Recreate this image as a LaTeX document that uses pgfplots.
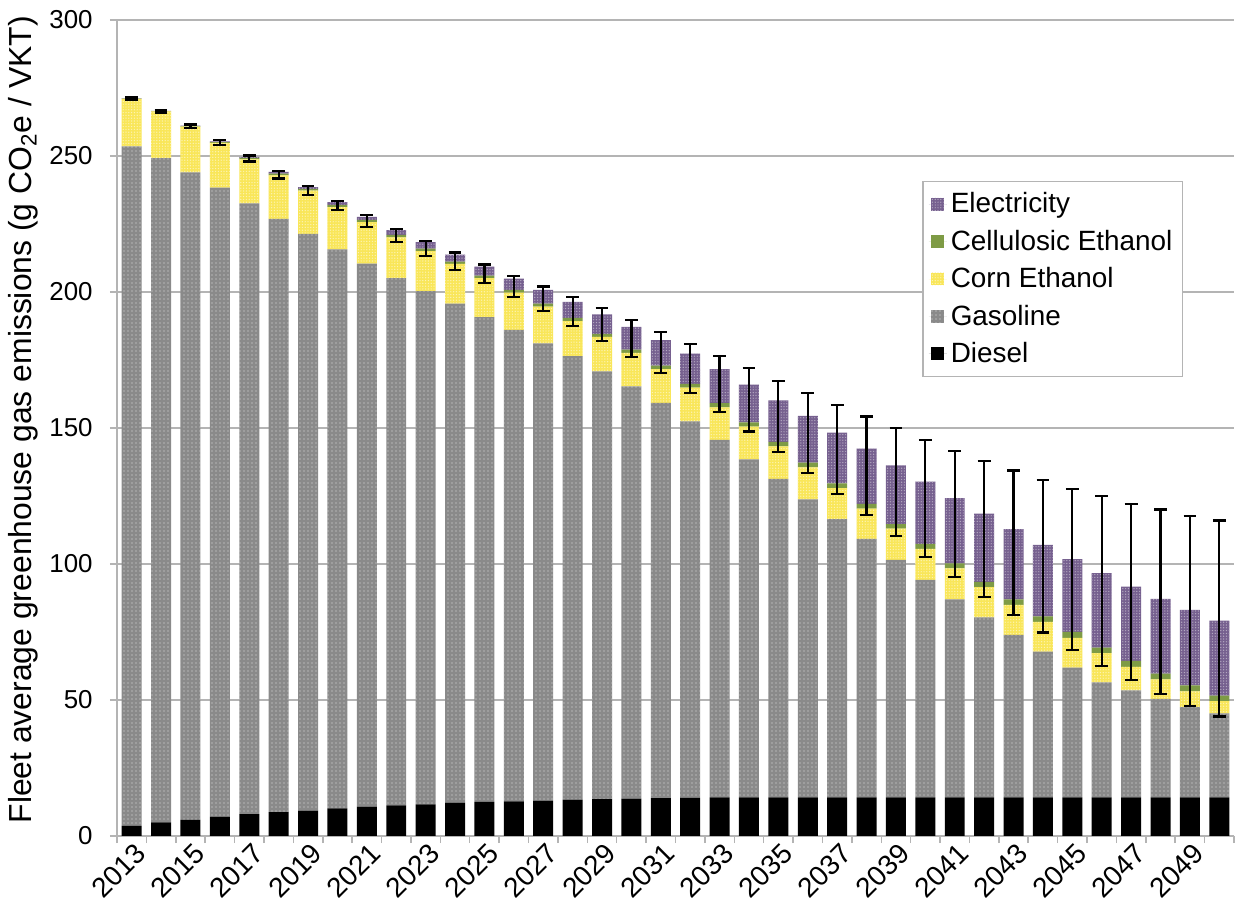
\documentclass[border=0pt]{standalone}
\usepackage{fontspec}
\setmainfont{Liberation Sans}
\usepackage{pgfplots}
\pgfplotsset{compat=1.18}
\usepackage{pgfplotstable}
\usetikzlibrary{patterns.meta}

\definecolor{dieselc}{HTML}{000000}
\definecolor{gasc}{HTML}{8A8A8A}
\definecolor{cornc}{HTML}{F9E659}
\definecolor{cellc}{HTML}{7E9B45}
\definecolor{elecc}{HTML}{76608F}
\definecolor{axc}{HTML}{B4B4B4}

\pgfplotstableread{
x year diesel gas corn cell elec total errplus errminus
0 2013 3.7 249.8 17.5 0.1 0.1 271.2 0.3 0.6
1 2014 5.0 244.2 17.2 0.1 0.1 266.6 0.3 0.6
2 2015 5.9 238.1 16.8 0.2 0.2 261.2 0.4 0.9
3 2016 7.1 231.3 16.4 0.3 0.3 255.4 0.4 1.3
4 2017 8.0 224.6 16.2 0.5 0.4 249.7 0.5 1.7
5 2018 8.8 218.1 16.0 0.6 0.7 244.2 0.3 2.5
6 2019 9.3 212.1 15.9 0.6 0.7 238.6 0.3 2.9
7 2020 10.2 205.5 15.5 0.8 1.0 233.0 0.4 3.0
8 2021 10.8 199.6 15.3 0.8 1.1 227.6 0.6 3.6
9 2022 11.3 193.8 15.0 0.9 1.7 222.7 0.6 4.2
10 2023 11.6 188.7 14.7 0.9 2.4 218.3 0.5 5.0
11 2024 12.3 183.4 14.6 0.9 2.5 213.7 0.8 5.5
12 2025 12.5 178.3 14.3 0.9 3.3 209.3 0.8 5.9
13 2026 12.7 173.4 13.7 1.0 4.1 204.9 1.1 6.7
14 2027 13.0 168.1 13.5 1.1 5.1 200.8 1.2 7.9
15 2028 13.4 163.0 12.9 1.2 5.9 196.4 1.7 8.8
16 2029 13.6 157.2 12.7 1.1 7.2 191.8 2.2 9.8
17 2030 13.7 151.6 12.3 1.2 8.4 187.2 2.4 11.1
18 2031 13.9 145.3 12.4 1.3 9.4 182.3 3.1 12.1
19 2032 14.0 138.4 12.4 1.4 11.1 177.3 3.7 14.3
20 2033 14.2 131.4 12.0 1.5 12.5 171.6 5.0 15.7
21 2034 14.2 124.3 12.0 1.6 13.8 165.9 6.1 17.2
22 2035 14.2 117.1 11.9 1.7 15.3 160.2 7.1 19.1
23 2036 14.2 109.6 11.7 1.8 17.2 154.5 8.4 21.0
24 2037 14.2 102.3 11.4 1.7 18.7 148.3 10.2 22.5
25 2038 14.2 95.0 11.2 1.7 20.3 142.4 11.8 24.5
26 2039 14.2 87.3 11.5 1.7 21.6 136.3 13.6 26.1
27 2040 14.2 80.0 11.4 1.8 22.9 130.3 15.3 27.8
28 2041 14.2 72.8 11.4 1.8 24.0 124.2 17.4 29.1
29 2042 14.2 66.2 11.1 1.9 25.1 118.5 19.3 30.5
30 2043 14.2 59.7 11.1 2.0 25.8 112.8 21.6 31.5
31 2044 14.2 53.6 10.9 2.0 26.3 107.0 24.0 32.2
32 2045 14.2 47.7 10.9 2.2 26.8 101.8 25.9 33.4
33 2046 14.2 42.3 10.7 2.1 27.3 96.6 28.3 34.1
34 2047 14.2 39.3 8.7 2.2 27.3 91.7 30.5 34.3
35 2048 14.2 36.2 7.2 2.1 27.5 87.2 32.8 35.0
36 2049 14.2 33.2 5.8 2.2 27.7 83.1 34.6 35.3
37 2050 14.2 30.9 4.5 2.0 27.6 79.2 36.8 35.3
}\data

\begin{document}
\begin{tikzpicture}
\begin{axis}[
  at={(0,0)}, anchor=south west,
  scale only axis,
  width=558.5bp, height=408bp,
  ybar stacked,
  bar width=0.68,
  xmin=-0.5, xmax=37.5,
  ymin=0, ymax=300,
  ytick={0,50,...,300},
  xtick={-0.5,0.5,...,37.5},
  xticklabels={},
  extra x ticks={0,2,...,36},
  extra x tick labels={2013,2015,2017,2019,2021,2023,2025,2027,2029,2031,2033,2035,2037,2039,2041,2043,2045,2047,2049},
  extra x tick style={major tick length=0pt, grid=none},
  tick align=outside,
  major tick length=3.5bp,
  tick style={axc, line width=0.75bp},
  axis x line*=bottom,
  axis y line*=left,
  axis line style={axc, line width=0.75bp},
  ymajorgrids,
  grid style={axc, line width=0.75bp},
  /pgf/number format/assume math mode=true,
  yticklabel style={font=\fontsize{13}{15}\selectfont, inner sep=0bp, xshift=-8.5bp},
  xticklabel style={font=\fontsize{14}{16}\selectfont, rotate=45, anchor=north east, inner sep=1bp, yshift=-1.5bp},
  ylabel={Fleet average greenhouse gas emissions (g CO\textsubscript{2}e / VKT)},
  every axis y label/.style={at={(axis description cs:-0.084,0.51)}, rotate=90, anchor=center, font=\fontsize{16}{18}\selectfont},
  legend style={at={(axis description cs:0.7207,0.8027)}, anchor=north west,
    draw=axc, line width=0.75bp, font=\fontsize{14}{16}\selectfont,
    row sep=3.1bp, inner xsep=3bp, inner ysep=3.5bp},
  legend cell align=left,
  reverse legend,
  legend image code/.code={\fill[#1] (1bp,-3.2bp) rectangle (7.4bp,3.2bp); \path (0bp,0bp) -- (9bp,0bp);},
]
\addplot[fill=dieselc, draw=none] table[x=x, y=diesel] {\data};
\addlegendentry{Diesel}
\addplot[fill=gasc, draw=none, postaction={pattern={Dots[distance=2bp, radius=0.3bp]}, pattern color=white!75!gasc}] table[x=x, y=gas] {\data};
\addlegendentry{Gasoline}
\addplot[fill=cornc, draw=none, postaction={pattern={Dots[distance=1.4bp, radius=0.35bp]}, pattern color=white!55!cornc}] table[x=x, y=corn] {\data};
\addlegendentry{Corn Ethanol}
\addplot[fill=cellc, draw=none] table[x=x, y=cell] {\data};
\addlegendentry{Cellulosic Ethanol}
\addplot[fill=elecc, draw=none, postaction={pattern={Dots[distance=1.4bp, radius=0.35bp]}, pattern color=white!45!elecc}] table[x=x, y=elec] {\data};
\addlegendentry{Electricity}
\end{axis}
\begin{axis}[
  at={(0,0)}, anchor=south west,
  scale only axis,
  width=558.5bp, height=408bp,
  xmin=-0.5, xmax=37.5,
  ymin=0, ymax=300,
  hide axis,
]
\addplot[draw=none, mark=none,
  error bars/.cd, y dir=both, y explicit,
  error bar style={draw=black, line width=1.1bp},
  error mark options={rotate=90, draw=black, line width=1.1bp, mark size=3.2bp}]
  table[x=x, y=total, y error plus=errplus, y error minus=errminus] {\data};
\end{axis}
\pgfresetboundingbox
\path[use as bounding box] (-58.5bp,-41.5bp) rectangle (560.5bp,418bp);
\end{tikzpicture}
\end{document}
